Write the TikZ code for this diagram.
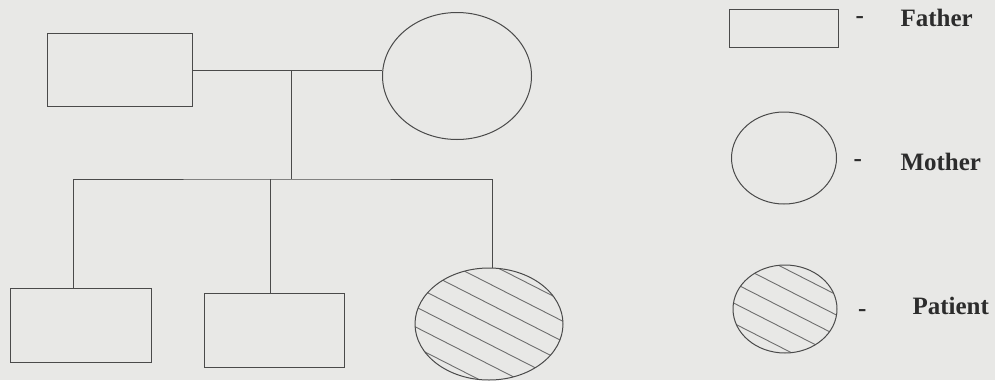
\documentclass[tikz,border=0pt]{standalone}
\usepackage{fontspec}
\setmainfont{Liberation Serif}
\usetikzlibrary{positioning,shapes.geometric}
\definecolor{paper}{HTML}{E8E8E6}
\definecolor{ink}{HTML}{4A4A4A}

\begin{document}
\begin{tikzpicture}[x=1pt, y=-1pt, line width=1pt, node distance=16pt,
    male/.style={draw=ink, rectangle, inner sep=0pt},
    female/.style={draw=ink, ellipse, inner sep=0pt},
    patient/.style={female, path picture={
      \foreach \k in {-8,...,8}
        \draw[ink!80, line width=0.9pt]
          ([shift={(\k*0.454*18pt, \k*0.891*18pt)}]path picture bounding box.center)
          ++(153:150pt) -- ++(-27:300pt);}},
    key/.style={font=\bfseries\fontsize{25}{29}\selectfont, text=ink!60!black, inner sep=0pt}]
  % background
  \fill[paper] (0,0) rectangle (995,380);

  % parents
  \node[male, minimum width=145pt, minimum height=73pt] (father) at (120,70) {};
  \node[female, minimum width=149pt, minimum height=127pt] (mother) at (457,76) {};
  % children
  \node[male, minimum width=141pt, minimum height=74pt] (son1) at (81,325) {};
  \node[male, minimum width=140pt, minimum height=74pt] (son2) at (274,330) {};
  \node[patient, minimum width=148pt, minimum height=112pt] (pat) at (489,324) {};

  % lines of descent
  \coordinate (mid) at (291,70);
  \coordinate (sib) at (291,179);
  \draw[ink] (father.east) -- (father.east -| mother.west);
  \draw[ink] (mid) -- (sib);
  \draw[ink] ([xshift=-8pt]son1.north) |- (sib) -| ([xshift=3pt]pat.north);
  \draw[ink] ([xshift=-4pt]son2.north) -- ([xshift=-4pt]son2.north |- sib);

  % key
  \node[male, minimum width=109pt, minimum height=38pt] (kfather) at (784,28) {};
  \node[female, minimum width=105pt, minimum height=92pt] (kmother) at (784,158) {};
  \node[patient, minimum width=104pt, minimum height=88pt] (kpatient) at (785,309) {};
  \node[key, right=of kfather, yshift=8pt] (dfather) {-};
  \node[key, right=of kmother, yshift=-5pt] (dmother) {-};
  \node[key, right=20pt of kpatient, yshift=-4pt] (dpatient) {-};
  \node[key, anchor=west] (lfather) at (900,18) {Father};
  \node[key, anchor=west] (lmother) at (900,162) {Mother};
  \node[key, anchor=west] (lpatient) at (912,306) {Patient};
\end{tikzpicture}
\end{document}
